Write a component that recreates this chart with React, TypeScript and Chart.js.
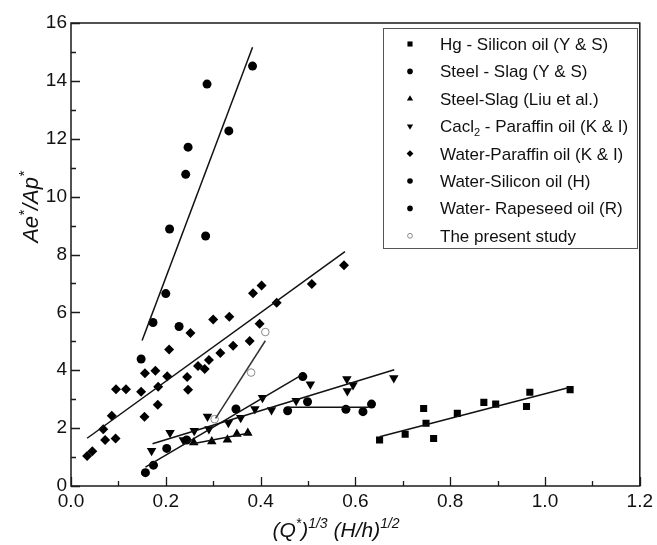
import { useEffect, useRef } from "react";
import { Chart, registerables } from "chart.js";

Chart.register(...registerables);

const FONT = "'Liberation Sans', Arial, sans-serif";

// Axis ticks
const xTickValues = [0.0, 0.2, 0.4, 0.6, 0.8, 1.0, 1.2];
const yTickValues = [0, 2, 4, 6, 8, 10, 12, 14, 16];

// Series labels (legend order)
const seriesLabels = [
  "Hg - Silicon oil (Y & S)",
  "Steel - Slag (Y & S)",
  "Steel-Slag (Liu et al.)",
  "Cacl2 - Paraffin oil (K & I)",
  "Water-Paraffin oil (K & I)",
  "Water-Silicon oil (H)",
  "Water- Rapeseed oil (R)",
  "The present study",
];

// Hg - Silicon oil (Y & S)
const hgX = [0.651, 0.705, 0.744, 0.749, 0.765, 0.815, 0.871, 0.896, 0.961, 0.968, 1.053];
const hgY = [1.59, 1.79, 2.68, 2.17, 1.64, 2.51, 2.89, 2.83, 2.75, 3.24, 3.33];
const hgFitX = [0.651, 1.053];
const hgFitY = [1.70, 3.41];

// Steel - Slag (Y & S)
const steelX = [0.148, 0.173, 0.200, 0.228, 0.208, 0.284, 0.242, 0.247, 0.333, 0.287, 0.383];
const steelY = [4.39, 5.65, 6.65, 5.51, 8.88, 8.64, 10.77, 11.71, 12.27, 13.89, 14.51];
const steelFitX = [0.150, 0.383];
const steelFitY = [5.03, 15.16];

// Steel-Slag (Liu et al.)
const liuX = [0.259, 0.297, 0.330, 0.350, 0.373];
const liuY = [1.50, 1.54, 1.60, 1.80, 1.83];
const liuFitX = [0.254, 0.379];
const liuFitY = [1.45, 1.84];

// Cacl2 - Paraffin oil (K & I)
const caclX = [0.170, 0.209, 0.237, 0.260, 0.288, 0.291, 0.332, 0.358, 0.388, 0.404, 0.423, 0.475, 0.505, 0.582, 0.583, 0.595, 0.681];
const caclY = [1.22, 1.84, 1.59, 1.91, 2.40, 1.97, 2.19, 2.36, 2.66, 3.05, 2.63, 2.95, 3.52, 3.70, 3.28, 3.49, 3.73];
const caclFitX = [0.172, 0.682];
const caclFitY = [1.46, 4.02];

// Water-Paraffin oil (K & I)
const wpX = [0.034, 0.045, 0.068, 0.072, 0.094, 0.086, 0.095, 0.116, 0.148, 0.155, 0.156, 0.178, 0.184, 0.183, 0.203, 0.207, 0.245, 0.247, 0.252, 0.268, 0.282, 0.291, 0.300, 0.315, 0.334, 0.342, 0.377, 0.384, 0.398, 0.402, 0.434, 0.508, 0.576];
const wpY = [1.04, 1.20, 1.96, 1.59, 1.64, 2.43, 3.34, 3.34, 3.26, 2.39, 3.90, 3.98, 3.43, 2.81, 3.79, 4.72, 3.77, 3.33, 5.29, 4.15, 4.04, 4.35, 5.75, 4.60, 5.85, 4.85, 5.01, 6.66, 5.61, 6.93, 6.33, 6.98, 7.63];
const wpFitX = [0.034, 0.578];
const wpFitY = [1.65, 8.10];

// Water-Silicon oil (H)
const wsX = [0.457, 0.499, 0.580, 0.616, 0.634];
const wsY = [2.60, 2.91, 2.65, 2.57, 2.83];
const wsFitX = [0.457, 0.628];
const wsFitY = [2.72, 2.72];

// Water- Rapeseed oil (R)
const rsX = [0.157, 0.174, 0.202, 0.244, 0.348, 0.489];
const rsY = [0.46, 0.72, 1.30, 1.59, 2.66, 3.78];
const rsFitX = [0.157, 0.488];
const rsFitY = [0.65, 3.85];

// The present study
const psX = [0.303, 0.380, 0.410];
const psY = [2.31, 3.92, 5.32];
const psFitX = [0.305, 0.410];
const psFitY = [2.34, 5.02];

const pts = (xs: number[], ys: number[]) => xs.map((x, i) => ({ x, y: ys[i] }));

type Seg = { t: string; sup?: boolean; sub?: boolean };

function drawRich(ctx: CanvasRenderingContext2D, segs: Seg[], x: number, y: number, size: number, italic: boolean, align: "left" | "center") {
  const base = `${italic ? "italic " : ""}${size}px ${FONT}`;
  const small = `${italic ? "italic " : ""}${Math.round(size * 0.66)}px ${FONT}`;
  let total = 0;
  for (const s of segs) {
    ctx.font = s.sup || s.sub ? small : base;
    total += ctx.measureText(s.t).width;
  }
  let cx = align === "center" ? x - total / 2 : x;
  ctx.textAlign = "left";
  ctx.textBaseline = "alphabetic";
  for (const s of segs) {
    ctx.font = s.sup || s.sub ? small : base;
    const dy = s.sup ? -size * 0.42 : s.sub ? size * 0.25 : 0;
    ctx.fillText(s.t, cx, y + dy);
    cx += ctx.measureText(s.t).width;
  }
}

function drawMarker(ctx: CanvasRenderingContext2D, style: string, x: number, y: number, r: number, rot: number, open: boolean) {
  ctx.save();
  ctx.translate(x, y);
  ctx.rotate((rot * Math.PI) / 180);
  ctx.beginPath();
  if (style === "rect") {
    const s = r * Math.SQRT1_2;
    ctx.rect(-s, -s, 2 * s, 2 * s);
  } else if (style === "rectRot") {
    ctx.moveTo(0, -r);
    ctx.lineTo(r, 0);
    ctx.lineTo(0, r);
    ctx.lineTo(-r, 0);
    ctx.closePath();
  } else if (style === "triangle") {
    ctx.moveTo(0, -r);
    ctx.lineTo(r * 0.866, r * 0.5);
    ctx.lineTo(-r * 0.866, r * 0.5);
    ctx.closePath();
  } else {
    ctx.arc(0, 0, r, 0, Math.PI * 2);
  }
  if (open) {
    ctx.fillStyle = "#fff";
    ctx.fill();
    ctx.strokeStyle = "#8a8a8a";
    ctx.lineWidth = 1;
    ctx.stroke();
  } else {
    ctx.fillStyle = "#000";
    ctx.fill();
  }
  ctx.restore();
}

const decorPlugin = {
  id: "decor",
  afterDraw(chart: any) {
    const ctx: CanvasRenderingContext2D = chart.ctx;
    const { left, right, top, bottom } = chart.chartArea;
    const xs = chart.scales.x;
    const ys = chart.scales.y;
    ctx.save();
    // frame
    ctx.strokeStyle = "#1a1a1a";
    ctx.lineWidth = 1.5;
    ctx.strokeRect(left, top, right - left, bottom - top);
    // ticks (inward)
    ctx.lineWidth = 1.3;
    ctx.beginPath();
    for (let i = 0; i <= 12; i++) {
      const px = Math.round(xs.getPixelForValue(i / 10)) + 0.5;
      const len = i % 2 === 0 ? 9 : 5;
      ctx.moveTo(px, bottom);
      ctx.lineTo(px, bottom - len);
    }
    for (let v = 0; v <= 16; v++) {
      const py = Math.round(ys.getPixelForValue(v)) + 0.5;
      const len = v % 2 === 0 ? 9 : 5;
      ctx.moveTo(left, py);
      ctx.lineTo(left + len, py);
    }
    ctx.stroke();

    // axis titles
    ctx.fillStyle = "#111";
    drawRich(ctx, [{ t: "(Q" }, { t: "*", sup: true }, { t: ")" }, { t: "1/3", sup: true }, { t: " (H/h)" }, { t: "1/2", sup: true }], 336, 537, 21, true, "center");
    ctx.save();
    ctx.translate(38, 207);
    ctx.rotate(-Math.PI / 2);
    drawRich(ctx, [{ t: "Ae" }, { t: "*", sup: true }, { t: "/Ap" }, { t: "*", sup: true }], 0, 0, 22, true, "center");
    ctx.restore();

    // legend
    const lx0 = 383, lx1 = 637, ly0 = 28, ly1 = 248;
    ctx.fillStyle = "#fff";
    ctx.fillRect(lx0, ly0, lx1 - lx0, ly1 - ly0);
    ctx.strokeStyle = "#555";
    ctx.lineWidth = 1;
    ctx.strokeRect(lx0 + 0.5, ly0 + 0.5, lx1 - lx0, ly1 - ly0);
    const styles = [
      ["rect", 3.6, 0, false],
      ["circle", 2.8, 0, false],
      ["triangle", 3.6, 0, false],
      ["triangle", 3.6, 180, false],
      ["rectRot", 3.4, 0, false],
      ["circle", 2.8, 0, false],
      ["circle", 2.8, 0, false],
      ["circle", 2.4, 0, true],
    ] as const;
    for (let i = 0; i < seriesLabels.length; i++) {
      const cy = 44 + i * 27.4;
      const st = styles[i];
      drawMarker(ctx, st[0], 410, cy, st[1], st[2], st[3]);
      ctx.fillStyle = "#111";
      const label = seriesLabels[i];
      if (label.startsWith("Cacl2")) {
        drawRich(ctx, [{ t: "Cacl" }, { t: "2", sub: true }, { t: label.slice(5) }], 440, cy + 6, 17, false, "left");
      } else {
        drawRich(ctx, [{ t: label }], 440, cy + 6, 17, false, "left");
      }
    }
    ctx.restore();
  },
};

const fitLine = (xs: number[], ys: number[], color = "#111") => ({
  type: "line" as const,
  data: pts(xs, ys),
  showLine: true,
  borderColor: color,
  borderWidth: 1.5,
  pointRadius: 0,
  fill: false,
});

const marker = (xs: number[], ys: number[], style: string, radius: number, rotation = 0, open = false) => ({
  type: "scatter" as const,
  data: pts(xs, ys),
  pointStyle: style,
  pointRadius: radius,
  pointRotation: rotation,
  pointBackgroundColor: open ? "#fff" : "#000",
  pointBorderColor: open ? "#8a8a8a" : "#000",
  pointBorderWidth: open ? 1 : 0,
  showLine: false,
});

export default function App() {
  const ref = useRef<HTMLCanvasElement>(null);
  useEffect(() => {
    if (!ref.current) return;
    const chart = new Chart(ref.current, {
      type: "scatter",
      data: {
        datasets: [
          fitLine(steelFitX, steelFitY),
          fitLine(wpFitX, wpFitY),
          fitLine(liuFitX, liuFitY),
          fitLine(caclFitX, caclFitY),
          fitLine(rsFitX, rsFitY),
          fitLine(wsFitX, wsFitY),
          fitLine(hgFitX, hgFitY),
          fitLine(psFitX, psFitY, "#333"),
          { label: seriesLabels[0], ...marker(hgX, hgY, "rect", 5) },
          { label: seriesLabels[1], ...marker(steelX, steelY, "circle", 4.5) },
          { label: seriesLabels[2], ...marker(liuX, liuY, "triangle", 5.5) },
          { label: seriesLabels[3], ...marker(caclX, caclY, "triangle", 5.5, 180) },
          { label: seriesLabels[4], ...marker(wpX, wpY, "rectRot", 5) },
          { label: seriesLabels[5], ...marker(wsX, wsY, "circle", 4.5) },
          { label: seriesLabels[6], ...marker(rsX, rsY, "circle", 4.5) },
          { label: seriesLabels[7], ...marker(psX, psY, "circle", 3.8, 0, true) },
        ] as any,
      },
      options: {
        animation: false,
        responsive: false,
        maintainAspectRatio: false,
        layout: { padding: { top: 23, right: 13, left: 0, bottom: 0 } },
        plugins: { legend: { display: false }, tooltip: { enabled: false } },
        scales: {
          x: {
            type: "linear",
            min: 0,
            max: 1.2,
            afterFit: (s: any) => { s.height = 59; },
            afterBuildTicks: (s: any) => { s.ticks = xTickValues.map((v) => ({ value: v })); },
            ticks: {
              padding: 4,
              color: "#111",
              font: { family: FONT, size: 19 },
              callback: (v: any) => Number(v).toFixed(1),
            },
            grid: { display: false, drawTicks: false },
            border: { display: false },
          },
          y: {
            type: "linear",
            min: 0,
            max: 16,
            afterFit: (s: any) => { s.width = 71; },
            afterBuildTicks: (s: any) => { s.ticks = yTickValues.map((v) => ({ value: v })); },
            ticks: {
              padding: 4,
              color: "#111",
              font: { family: FONT, size: 19 },
              callback: (v: any) => String(v),
            },
            grid: { display: false, drawTicks: false },
            border: { display: false },
          },
        },
      },
      plugins: [decorPlugin],
    });
    return () => chart.destroy();
  }, []);
  return (
    <div style={{ position: "fixed", left: 0, top: 0, width: 657, height: 545, background: "#fff" }}>
      <canvas ref={ref} width={657} height={545} style={{ width: 657, height: 545 }} />
    </div>
  );
}
